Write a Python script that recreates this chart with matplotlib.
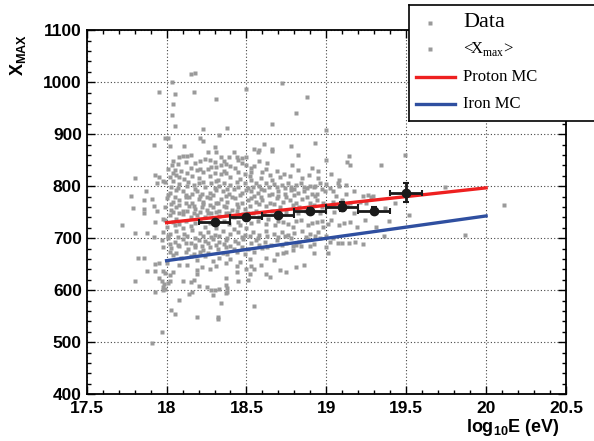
import numpy as np
import matplotlib.pyplot as plt

plt.rcParams['mathtext.fontset'] = 'custom'
plt.rcParams['mathtext.rm'] = 'Liberation Serif'
plt.rcParams['mathtext.bf'] = 'Liberation Sans:bold'

# scattered events (log10 E, Xmax)
sparse_high = [(18.15, 1016), (18.18, 1018), (18.035, 1000), (17.95, 981), (18.05, 977),
               (18.17, 981), (18.31, 968), (18.04, 958), (18.035, 938), (18.05, 916),
               (18.50, 987), (18.23, 910), (18.38, 912), (18.33, 898), (17.99, 892),
               (18.01, 893), (18.21, 892), (18.23, 888), (17.92, 879), (18.02, 877),
               (18.11, 877), (18.30, 876), (18.72, 999), (18.88, 971), (18.81, 941),
               (18.66, 920), (19.00, 908), (18.93, 883), (18.61, 882), (18.78, 877),
               (18.55, 871), (18.58, 869), (18.66, 871), (19.49, 861), (19.34, 841),
               (18.57, 866), (18.66, 867), (18.82, 861), (19.00, 851), (19.14, 858),
               (19.13, 847), (19.15, 840)]
sparse_right = [(19.74, 798), (19.29, 782), (19.28, 780), (20.11, 764), (19.43, 767),
                (19.37, 759), (19.52, 744), (19.39, 733), (19.31, 722), (19.36, 704),
                (19.87, 707), (19.23, 781), (19.26, 783), (19.03, 824), (19.08, 813),
                (19.12, 803), (19.04, 790), (19.07, 806), (19.08, 801), (19.00, 804)]
sparse_left = [(17.80, 815), (17.79, 758), (17.86, 748), (17.86, 756), (17.87, 790),
               (17.86, 774), (17.93, 822), (17.95, 818), (17.94, 806), (17.98, 810),
               (17.99, 808), (17.91, 776), (17.92, 762), (17.94, 752), (17.98, 737),
               (17.93, 731), (17.72, 726), (17.78, 782), (17.80, 711), (17.875, 711),
               (17.92, 703), (17.82, 663), (17.86, 663), (17.875, 638), (17.93, 638),
               (17.925, 650), (17.80, 618), (17.95, 652), (17.98, 638)]
sparse_low = [(17.95, 623), (17.97, 617), (17.985, 613), (18.01, 614), (18.02, 617),
              (17.98, 607), (17.99, 602), (17.98, 600), (17.93, 597), (18.08, 581),
              (18.03, 563), (18.05, 555), (18.19, 549), (18.32, 548), (18.32, 544),
              (18.34, 576), (18.29, 590), (18.14, 593), (18.16, 597), (18.20, 609),
              (18.25, 607), (18.28, 601), (18.30, 601), (18.33, 602), (18.37, 611),
              (18.38, 604), (18.37, 595), (18.38, 597), (17.97, 520), (17.91, 498),
              (18.44, 636), (18.45, 618), (18.50, 641), (18.51, 620), (18.375, 623),
              (18.19, 632), (18.10, 617), (18.15, 615), (18.17, 620), (18.04, 636),
              (17.99, 633), (18.02, 629), (18.55, 570), (19.00, 684), (19.01, 671),
              (18.92, 671), (18.86, 649), (18.81, 645), (18.75, 636), (18.71, 639),
              (18.65, 626), (18.62, 631), (18.59, 649), (18.55, 640), (18.53, 647),
              (18.52, 631), (18.675, 658), (18.62, 663), (18.73, 671), (18.75, 674),
              (18.79, 677), (18.90, 686), (18.84, 685), (18.81, 687), (19.07, 690),
              (19.10, 691), (19.14, 691), (19.18, 692), (19.23, 689), (19.02, 692),
              (19.00, 705), (18.525, 660)]
cloud_upper = [(18.075, 857), (18.10, 858), (18.13, 858), (18.15, 860), (18.26, 866),
               (18.31, 866), (18.34, 856), (18.39, 857), (18.42, 865), (18.44, 856),
               (18.47, 855), (18.50, 856), (18.035, 841), (18.07, 842), (18.18, 845),
               (18.21, 849), (18.24, 853), (18.30, 847), (18.31, 838), (18.34, 841),
               (18.37, 843), (18.40, 839), (18.47, 845), (18.50, 840), (18.05, 831),
               (18.06, 822), (18.04, 825), (18.08, 818), (18.125, 825), (18.19, 831),
               (18.21, 833), (18.26, 833), (18.30, 825), (18.34, 823), (18.375, 825),
               (18.45, 827), (18.49, 824), (18.55, 839), (18.53, 835), (18.58, 849),
               (18.785, 840), (18.91, 836), (18.95, 830), (18.735, 823), (18.775, 820),
               (18.646, 822), (18.60, 827), (18.95, 815), (18.96, 806), (18.92, 799),
               (18.97, 794), (18.94, 786), (18.04, 849), (18.12, 846), (18.27, 851),
               (18.36, 848), (18.45, 850), (18.63, 845)]
cloud_mid = [(18.04, 811), (18.08, 805), (18.135, 809), (18.17, 803), (18.20, 806),
             (18.23, 809), (18.28, 806), (18.31, 811), (18.36, 807), (18.40, 802),
             (18.44, 809), (18.49, 807), (18.02, 788), (18.06, 793), (18.10, 790),
             (18.16, 786), (18.19, 791), (18.22, 785), (18.27, 788), (18.31, 793),
             (18.35, 790), (18.39, 786), (18.42, 794), (18.47, 788), (18.50, 793),
             (18.53, 812), (18.56, 807), (18.54, 799), (18.58, 801), (18.62, 806),
             (18.67, 804), (18.69, 798), (18.72, 802), (18.76, 806), (18.78, 798),
             (18.81, 802), (18.84, 806), (18.86, 798), (18.90, 801), (18.53, 790),
             (18.57, 788), (18.61, 793), (18.66, 786), (18.70, 790), (18.74, 786),
             (18.78, 793), (18.82, 788), (18.86, 790), (18.91, 786), (18.99, 790),
             (19.12, 786), (19.17, 790), (18.00, 777), (18.04, 770), (18.08, 774),
             (18.12, 779), (18.16, 768), (18.20, 775), (18.23, 770), (18.27, 777),
             (18.31, 768), (18.34, 775), (18.38, 770), (18.43, 777), (18.47, 768),
             (18.51, 774), (18.53, 777), (18.56, 770), (18.60, 774), (18.65, 767),
             (18.69, 777), (18.73, 770), (18.77, 774), (18.81, 767), (18.85, 775),
             (18.90, 767), (18.94, 774), (18.98, 767), (19.04, 770), (19.10, 774),
             (19.15, 767), (19.21, 770), (19.25, 767)]
cloud_fill = [(18.01, 834), (18.09, 829), (18.15, 836), (18.23, 828), (18.28, 837),
              (18.36, 830), (18.43, 835), (18.53, 828), (18.62, 833), (18.69, 829),
              (18.82, 832), (18.02, 818), (18.11, 814), (18.16, 820), (18.20, 815),
              (18.27, 819), (18.32, 813), (18.40, 817), (18.46, 814), (18.52, 820),
              (18.59, 815), (18.66, 812), (18.71, 818), (18.85, 815), (18.89, 821),
              (18.03, 799), (18.07, 796), (18.13, 800), (18.18, 795), (18.24, 798),
              (18.30, 796), (18.33, 801), (18.38, 795), (18.45, 799), (18.51, 797),
              (18.59, 795), (18.64, 799), (18.74, 796), (18.80, 795), (18.88, 797),
              (18.93, 800), (19.02, 797), (18.01, 783), (18.05, 780), (18.12, 784),
              (18.14, 779), (18.21, 782), (18.25, 779), (18.29, 784), (18.37, 781),
              (18.41, 779), (18.46, 783), (18.55, 781), (18.59, 779), (18.64, 783),
              (18.70, 781), (18.75, 779), (18.80, 783), (18.88, 780), (18.93, 781),
              (19.06, 782), (18.03, 766), (18.08, 764), (18.12, 767), (18.17, 763),
              (18.23, 766), (18.27, 764), (18.32, 767), (18.36, 763), (18.44, 766),
              (18.52, 763), (18.58, 766), (18.62, 762), (18.67, 765), (18.71, 761),
              (18.79, 764), (18.83, 761), (18.92, 764), (18.97, 760), (19.13, 762)]
cloud_lower = [(17.99, 761), (18.025, 754), (18.06, 760), (18.10, 753), (18.14, 762),
               (18.18, 756), (18.22, 761), (18.25, 754), (18.29, 760), (18.33, 752),
               (18.37, 760), (18.41, 754), (18.45, 761), (18.49, 756), (18.02, 745),
               (18.06, 738), (18.10, 746), (18.15, 740), (18.19, 745), (18.24, 741),
               (18.28, 748), (18.33, 743), (18.375, 748), (18.42, 741), (18.48, 746),
               (17.99, 735), (18.00, 722), (18.05, 725), (18.10, 719), (18.15, 724),
               (18.24, 721), (18.31, 719), (18.42, 717), (18.46, 725), (18.50, 719),
               (18.54, 748), (18.58, 741), (18.635, 738), (18.68, 726), (18.73, 732),
               (18.79, 722), (18.84, 735), (18.885, 726), (18.94, 732), (18.98, 722),
               (19.03, 735), (19.08, 726), (19.15, 732), (19.19, 722), (19.24, 735),
               (18.04, 751), (18.08, 748), (18.13, 752), (18.17, 749), (18.21, 751),
               (18.26, 748), (18.31, 751), (18.39, 749), (18.44, 752), (18.51, 749),
               (18.56, 752), (18.61, 748), (18.66, 752), (18.75, 750), (18.82, 748),
               (18.87, 753), (18.96, 749), (19.05, 751), (19.17, 748), (18.04, 731),
               (18.08, 728), (18.12, 733), (18.18, 729), (18.21, 734), (18.27, 730),
               (18.36, 733), (18.39, 728), (18.45, 732), (18.53, 729), (18.57, 733),
               (18.62, 728), (18.70, 733), (18.76, 728), (18.81, 733), (18.91, 729),
               (18.97, 734), (19.01, 728), (19.11, 730)]
cloud_base = [(17.98, 713), (18.02, 709), (18.06, 714), (18.11, 708), (18.16, 715),
              (18.21, 710), (18.26, 712), (18.30, 707), (18.35, 714), (18.40, 709),
              (18.45, 712), (18.49, 707), (17.97, 697), (18.01, 700), (18.05, 693),
              (18.10, 698), (18.15, 691), (18.20, 697), (18.24, 694), (18.29, 699),
              (18.33, 692), (18.375, 696), (18.43, 694), (18.48, 698), (17.98, 684),
              (18.03, 681), (18.08, 685), (18.135, 679), (18.18, 684), (18.23, 677),
              (18.27, 683), (18.32, 679), (18.375, 684), (18.42, 679), (18.47, 684),
              (18.51, 679), (18.04, 668), (18.09, 662), (18.15, 666), (18.19, 658),
              (18.24, 665), (18.29, 657), (18.33, 663), (18.40, 660), (18.46, 655),
              (18.00, 652), (18.125, 649), (18.22, 645), (18.31, 647), (18.375, 652),
              (18.44, 646), (18.19, 639), (18.27, 640), (18.08, 648), (18.54, 713),
              (18.58, 706), (18.625, 714), (18.67, 708), (18.72, 713), (18.76, 706),
              (18.80, 711), (18.85, 714), (18.90, 708), (18.95, 713), (18.56, 697),
              (18.615, 693), (18.69, 697), (18.75, 691), (18.83, 693), (18.885, 698),
              (18.96, 700), (18.53, 690), (18.60, 681), (18.655, 687), (18.01, 704),
              (18.07, 702), (18.13, 705), (18.18, 701), (18.23, 704), (18.28, 702),
              (18.33, 705), (18.38, 701), (18.47, 703), (18.52, 705), (18.57, 701),
              (18.63, 704), (18.70, 702), (18.74, 705), (18.78, 701), (18.87, 703),
              (18.93, 705), (19.04, 700), (18.02, 689), (18.07, 687), (18.12, 690),
              (18.18, 688), (18.22, 686), (18.26, 690), (18.31, 687), (18.36, 689),
              (18.40, 686), (18.45, 690), (18.58, 687), (18.63, 684), (18.72, 688),
              (18.79, 686), (18.92, 689), (18.02, 673), (18.06, 671), (18.12, 674),
              (18.17, 670), (18.21, 673), (18.26, 671), (18.35, 672), (18.38, 669),
              (18.44, 673), (18.49, 670), (18.55, 674), (18.69, 669)]

# binned mean <Xmax>
bin_x = [18.3, 18.5, 18.7, 18.9, 19.1, 19.3, 19.5]
bin_y = [731, 740, 744, 752, 761, 753, 788]
bin_yerr = [4, 4, 5, 6, 8, 7, 18]
bin_xerr = [0.1] * 7

# MC expectations
mc_x = [18.0, 20.0]
proton_y = [730, 797]
iron_y = [657, 743]

events = (sparse_high + sparse_right + sparse_left + sparse_low + cloud_upper
          + cloud_mid + cloud_fill + cloud_lower + cloud_base)
ev_x = [p[0] for p in events]
ev_y = [p[1] for p in events]

W, H = 594, 441
fig = plt.figure(figsize=(W / 100, H / 100), dpi=100)
ax = fig.add_axes([86.7 / W, 46.7 / H, (566 - 86.7) / W, (394.3 - 30.3) / H])

ax.plot(ev_x, ev_y, 's', color='#9a9a9a', ms=3.2, mec='none', zorder=2)
ax.plot(mc_x, proton_y, color='#ee2020', lw=2.4, zorder=3)
ax.plot(mc_x, iron_y, color='#2f4fa0', lw=2.4, zorder=3)
ax.errorbar(bin_x, bin_y, yerr=bin_yerr, xerr=bin_xerr, fmt='o', color='#1a1a1a',
            ms=6, lw=2, capsize=2.5, capthick=1.5, zorder=4)

ax.set_xlim(17.5, 20.5)
ax.set_ylim(400, 1100)
ax.set_xticks(np.arange(17.5, 20.51, 0.5))
ax.set_xticks(np.arange(17.5, 20.51, 0.1), minor=True)
ax.set_yticks(np.arange(400, 1101, 100))
ax.set_yticks(np.arange(400, 1101, 20), minor=True)
ax.set_xticklabels(['%g' % t for t in np.arange(17.5, 20.51, 0.5)])
ax.tick_params(which='both', direction='in', top=True, right=True, width=1)
ax.tick_params(which='major', length=6)
ax.tick_params(which='minor', length=3)
ax.tick_params(axis='x', pad=5)
for lab in ax.get_xticklabels() + ax.get_yticklabels():
    lab.set_fontfamily('Liberation Sans')
    lab.set_fontweight('bold')
    lab.set_fontsize(12.5)
for s in ax.spines.values():
    s.set_linewidth(1.3)
ax.grid(True, which='major', ls=(0, (1, 2)), color='#444444', lw=0.8)
ax.set_axisbelow(True)

fig.text(18 / W, 1 - 55 / H, r'X$_{\mathbf{MAX}}$', rotation=90, ha='center', va='center',
         fontsize=13, fontweight='bold', family='Liberation Sans')
fig.text(513 / W, 1 - 428 / H, r'log$_{\mathbf{10}}$E (eV)', ha='center', va='center',
         fontsize=13, fontweight='bold', family='Liberation Sans')

# legend box
lax = fig.add_axes([409 / W, (H - 121) / H, (605 - 409) / W, 116 / H])
lax.set_xlim(0, 1)
lax.set_ylim(0, 1)
lax.set_xticks([])
lax.set_yticks([])
for s in lax.spines.values():
    s.set_linewidth(1.2)
lax.plot([0.107], [0.845], 's', color='#9a9a9a', ms=3, mec='none')
lax.plot([0.107], [0.62], 's', color='#9a9a9a', ms=3, mec='none')
lax.plot([0.035, 0.235], [0.379, 0.379], color='#ee2020', lw=2.4)
lax.plot([0.035, 0.235], [0.147, 0.147], color='#2f4fa0', lw=2.4)
lax.text(0.275, 0.845, 'Data', va='center', fontsize=16, family='Liberation Serif')
lax.text(0.275, 0.62, r'<X$_{\mathrm{max}}$>', va='center', fontsize=12, family='Liberation Serif')
lax.text(0.275, 0.379, 'Proton MC', va='center', fontsize=12, family='Liberation Serif')
lax.text(0.275, 0.147, 'Iron MC', va='center', fontsize=12, family='Liberation Serif')

fig.savefig('out.png', dpi=100)
